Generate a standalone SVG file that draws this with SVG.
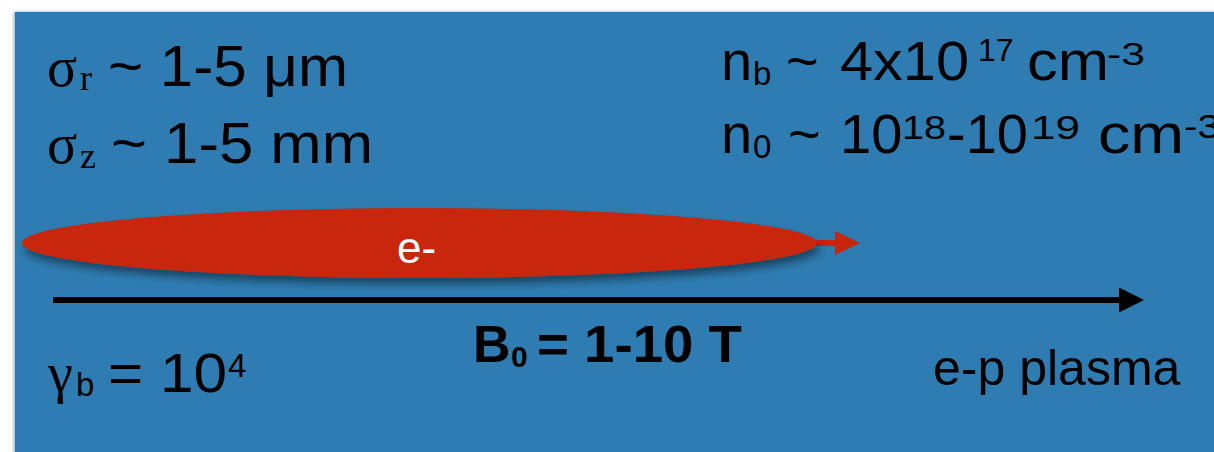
<svg xmlns="http://www.w3.org/2000/svg" width="1214" height="452" viewBox="0 0 1214 452">
<style>
.s{font-family:"Liberation Sans",Arial,sans-serif;fill:#000}
.g{font-family:"Liberation Serif","Times New Roman",serif;fill:#000}
.b{font-weight:bold}
.w{fill:#fff}
.L{font-size:56px}
.S{font-size:33px}
</style>
<defs>
<filter id="sh" x="-10%" y="-50%" width="120%" height="200%">
<feDropShadow dx="3" dy="6" stdDeviation="4" flood-color="#000" flood-opacity="0.45"/>
</filter>
<filter id="psh" x="-5%" y="-5%" width="110%" height="110%">
<feDropShadow dx="-1" dy="0" stdDeviation="1.5" flood-color="#000" flood-opacity="0.4"/>
</filter>
<marker id="ah" markerUnits="userSpaceOnUse" markerWidth="26" markerHeight="26" refX="0" refY="12.5" orient="auto">
<path d="M0,0 L25,12.5 L0,25 Z" fill="#000"/>
</marker>
<marker id="rh" markerUnits="userSpaceOnUse" markerWidth="26" markerHeight="26" refX="0" refY="12" orient="auto">
<path d="M0,0 L25,12 L0,24 Z" fill="#c8260a"/>
</marker>
</defs>
<rect x="0" y="0" width="1214" height="452" fill="#fff"/>
<rect id="panel" x="15" y="12" width="1210" height="450" fill="#2e7cb1" filter="url(#psh)"/>

<g id="connectors">
<line x1="53" y1="300" x2="1119" y2="300" stroke="#000" stroke-width="6" marker-end="url(#ah)"/>
<line x1="810" y1="243" x2="835" y2="243" stroke="#c8260a" stroke-width="6" marker-end="url(#rh)"/>
</g>

<g id="beam">
<ellipse cx="419.5" cy="243" rx="397.5" ry="35" fill="#c8260a" filter="url(#sh)"/>
<text class="s w" x="397" y="263" font-size="44">e-</text>
</g>

<g id="sigma-r">
<text class="g" x="47" y="86" font-size="56">σ</text>
<text class="g" x="80" y="90" font-size="36">r</text>
<text class="s" x="108" y="86" font-size="57" textLength="240" lengthAdjust="spacingAndGlyphs">~ 1-5 μm</text>
</g>
<g id="sigma-z">
<text class="g" x="47" y="163" font-size="56">σ</text>
<text class="g" x="80" y="168" font-size="36">z</text>
<text class="s" x="111" y="163" font-size="57" textLength="262" lengthAdjust="spacingAndGlyphs">~ 1-5 mm</text>
</g>
<g id="nb">
<text class="s L" x="721" y="80">n</text>
<text class="s S" x="753" y="85">b</text>
<text class="s L" x="786" y="80">~</text>
<text class="s L" x="840" y="80" textLength="129" lengthAdjust="spacingAndGlyphs">4x10</text>
<text class="s" x="978" y="61" font-size="32">17</text>
<text class="s L" x="1027" y="80" textLength="82" lengthAdjust="spacingAndGlyphs">cm</text>
<text class="s" x="1107" y="65" font-size="32" textLength="38" lengthAdjust="spacingAndGlyphs">-3</text>
</g>
<g id="n0">
<text class="s L" x="721" y="153">n</text>
<text class="s S" x="753" y="158">0</text>
<text class="s L" x="788" y="153">~</text>
<text class="s L" x="840" y="153">10</text>
<text class="s S" x="902" y="139" textLength="44" lengthAdjust="spacingAndGlyphs">18</text>
<text class="s L" x="947" y="153">-10</text>
<text class="s S" x="1031" y="139" textLength="49" lengthAdjust="spacingAndGlyphs">19</text>
<text class="s L" x="1098" y="153" textLength="86" lengthAdjust="spacingAndGlyphs">cm</text>
<text class="s S" x="1184" y="138" textLength="36" lengthAdjust="spacingAndGlyphs">-3</text>
</g>
<g id="gamma">
<text class="g" x="48" y="392" font-size="56">γ</text>
<text class="s S" x="76" y="396">b</text>
<text class="s L" x="108" y="392" textLength="119" lengthAdjust="spacingAndGlyphs">= 10</text>
<text class="s S" x="228" y="377">4</text>
</g>
<g id="b0">
<text class="s b" x="473" y="362" font-size="52">B</text>
<text class="s b" x="511" y="367" font-size="30">0</text>
<text class="s b" x="537" y="362" font-size="52" textLength="205" lengthAdjust="spacingAndGlyphs">= 1-10 T</text>
</g>
<g id="plasma">
<text class="s" x="933" y="385" font-size="50">e-p plasma</text>
</g>
</svg>
